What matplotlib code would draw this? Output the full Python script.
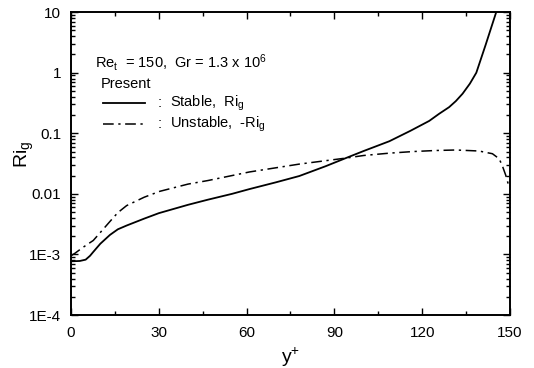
import numpy as np
import matplotlib
matplotlib.use("Agg")
import matplotlib.pyplot as plt
from matplotlib.ticker import FixedLocator, FixedFormatter, LogLocator, NullFormatter

plt.rcParams['font.family'] = ['Liberation Sans', 'DejaVu Sans']
plt.rcParams['mathtext.default'] = 'regular'

# stable case, Ri_g
y_stable = [0, 3, 5, 6.5, 7.6, 10, 13.3, 16, 19, 25, 30, 40, 46.7, 55, 61, 70,
            78, 87, 94.5, 100, 105, 108.8, 116, 122.4, 125.8, 129.2, 131.5,
            133.8, 136.3, 138.5, 141.7, 145.3, 146.5]
ri_stable = [7.7e-4, 7.8e-4, 8.2e-4, 9.5e-4, 1.1e-3, 1.5e-3, 2.1e-3, 2.6e-3,
             3.0e-3, 3.9e-3, 4.8e-3, 6.6e-3, 8.0e-3, 1.0e-2, 1.2e-2, 1.55e-2,
             1.97e-2, 2.86e-2, 4.0e-2, 5.1e-2, 6.3e-2, 7.4e-2, 0.11, 0.16,
             0.21, 0.27, 0.34, 0.45, 0.66, 1.0, 2.9, 10.0, 13.0]

# unstable case, -Ri_g
y_unstable = [0, 1.4, 4, 7.6, 10, 13.3, 16, 19, 25, 30.3, 40, 46.8, 61, 78, 94,
              100, 108.8, 117, 124.7, 131.5, 139.4, 144, 146.3, 147.4, 148.6,
              149.5, 150]
ri_unstable = [9.5e-4, 1.05e-3, 1.3e-3, 1.7e-3, 2.3e-3, 3.5e-3, 4.9e-3, 6.4e-3,
               8.8e-3, 1.1e-2, 1.45e-2, 1.66e-2, 2.3e-2, 3.1e-2, 3.9e-2,
               4.3e-2, 4.7e-2, 5.0e-2, 5.2e-2, 5.3e-2, 5.1e-2, 4.6e-2, 3.8e-2,
               2.9e-2, 2.0e-2, 1.4e-2, 1.6e-2]

x_ticks = [0, 30, 60, 90, 120, 150]
y_ticks = [1e-4, 1e-3, 1e-2, 1e-1, 1, 10]
y_tick_labels = ['1E-4', '1E-3', '0.01', '0.1', '1', '10']

fig = plt.figure(figsize=(5.34, 3.68), dpi=100)
ax = fig.add_axes([0.133, 0.144, 0.822, 0.823])

dashdot = (0, (7, 3, 1.5, 3))
ax.plot(y_stable, ri_stable, color='black', lw=1.3)
ax.plot(y_unstable, ri_unstable, color='black', lw=1.1, linestyle=dashdot)

ax.set_yscale('log')
ax.set_xlim(0, 150)
ax.set_ylim(1e-4, 10)

ax.xaxis.set_major_locator(FixedLocator(x_ticks))
ax.xaxis.set_minor_locator(FixedLocator([15, 45, 75, 105, 135]))
ax.yaxis.set_major_locator(FixedLocator(y_ticks))
ax.yaxis.set_major_formatter(FixedFormatter(y_tick_labels))
ax.yaxis.set_minor_locator(LogLocator(base=10, subs=np.arange(2, 10)))
ax.yaxis.set_minor_formatter(NullFormatter())

ax.tick_params(which='both', direction='in', top=True, right=True,
               labelsize=11, width=1.0)
ax.tick_params(which='major', length=5)
ax.tick_params(which='minor', length=3)
ax.tick_params(axis='x', pad=8)
ax.tick_params(axis='y', pad=7)
for s in ax.spines.values():
    s.set_linewidth(1.4)

ax.set_xlabel('y$^{+}$', fontsize=14)
ax.xaxis.set_label_coords(0.5, -0.10)
ax.set_ylabel('Ri$_{g}$', fontsize=14)
ax.yaxis.set_label_coords(-0.079, 0.53)

ax.text(0.055, 0.835, 'Re$_{t}$  = 150,  Gr = 1.3 x 10$^{6}$', transform=ax.transAxes,
        fontsize=10.5, va='center')
ax.text(0.068, 0.762, 'Present', transform=ax.transAxes, fontsize=10.5, va='center')
ax.plot([0.073, 0.169], [0.70, 0.70], transform=ax.transAxes, color='black', lw=1.3)
ax.plot([0.073, 0.169], [0.63, 0.63], transform=ax.transAxes, color='black', lw=1.1,
        linestyle=dashdot)
ax.text(0.197, 0.70, ':', transform=ax.transAxes, fontsize=10.5, va='center')
ax.text(0.197, 0.63, ':', transform=ax.transAxes, fontsize=10.5, va='center')
ax.text(0.225, 0.70, 'Stable,  Ri$_{g}$', transform=ax.transAxes, fontsize=10.5, va='center')
ax.text(0.225, 0.63, 'Unstable,  -Ri$_{g}$', transform=ax.transAxes, fontsize=10.5, va='center')

fig.savefig('out.png', dpi=100)
